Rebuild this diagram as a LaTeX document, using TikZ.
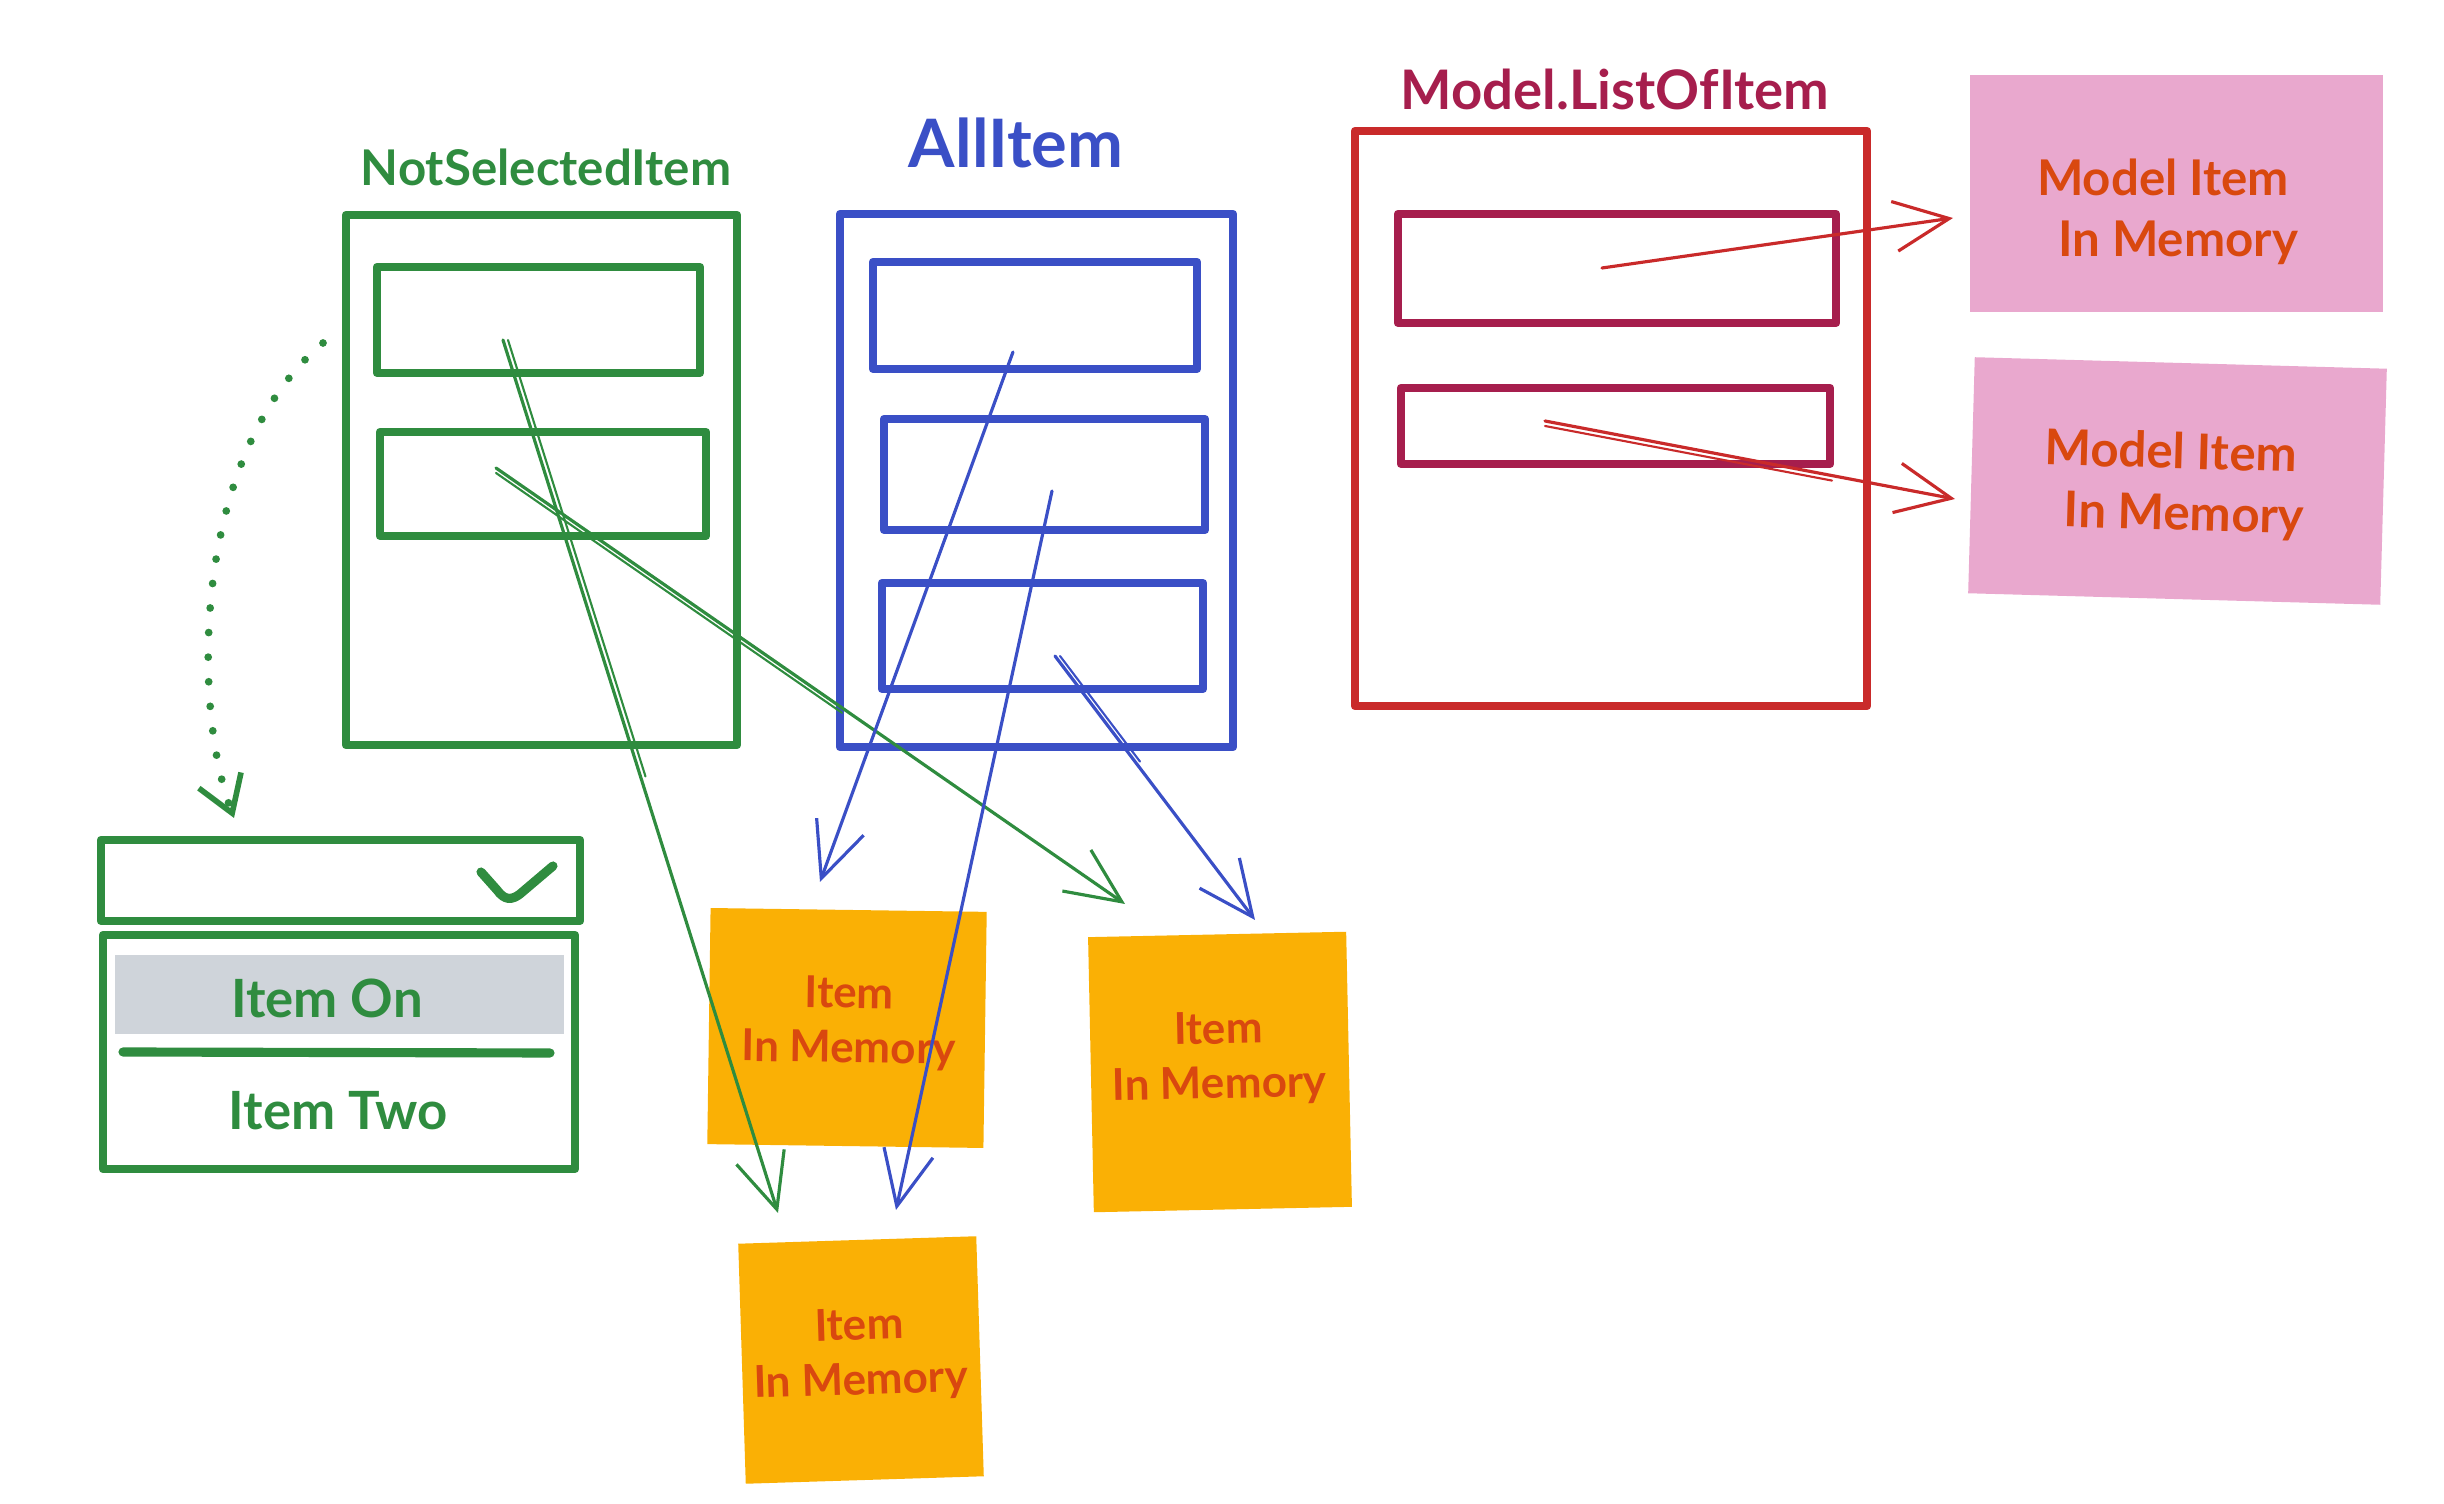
\documentclass[tikz,border=0pt]{standalone}
\usepackage{fontspec}
\setmainfont{Lato}
\usetikzlibrary{arrows.meta,calc}
\definecolor{cgreen}{HTML}{2F8C3F}
\definecolor{cblue}{HTML}{3A4FC6}
\definecolor{cred}{HTML}{C92A2A}
\definecolor{cmaroon}{HTML}{A61E4D}
\definecolor{corange}{HTML}{FAB005}
\definecolor{cpink}{HTML}{E9A8CE}
\definecolor{ctext}{HTML}{D9480F}
\definecolor{cgray}{HTML}{CFD4DA}
\begin{document}
\begin{tikzpicture}[x=0.01cm,y=-0.01cm,
  thickbox/.style={draw, line width=2.3pt, line join=round, inner sep=0pt},
  gbox/.style={thickbox, draw=cgreen},
  bbox/.style={thickbox, draw=cblue},
  rbox/.style={thickbox, draw=cred},
  mbox/.style={thickbox, draw=cmaroon},
  orangenote/.style={fill=corange, inner sep=0pt},
  pinknote/.style={fill=cpink, inner sep=0pt},
  memtxt/.style={inner sep=0pt, align=center, text=ctext, font=\bfseries\fontsize{12.5}{15.5}\selectfont},
  modeltxt/.style={inner sep=0pt, align=center, text=ctext, font=\bfseries\fontsize{14}{17.5}\selectfont},
  title/.style={inner sep=0pt, font=\bfseries\fontsize{14}{17}\selectfont},
  arr/.style={line width=0.9pt, line cap=round, -{Straight Barb[length=0.55cm, width=0.5cm, line width=0.9pt]}},
  ghost/.style={line width=0.6pt, line cap=round},
  garr/.style={arr, draw=cgreen},
  barr/.style={arr, draw=cblue},
  rarr/.style={arr, draw=cred},
  dotarr/.style={draw=cgreen, line width=2.2pt, line cap=round, dash pattern=on 0pt off 7pt,
     -{Straight Barb[length=0.35cm, width=0.45cm, line width=1.6pt]}},
  ddtxt/.style={inner sep=0pt, text=cgreen, font=\bfseries\fontsize{15}{18}\selectfont}
]
\useasboundingbox (0,0) rectangle (2444,1504);

% titles
\node[title, text=cgreen] (tnsi) at (546,167) {NotSelectedItem};
\node[title, text=cblue, font=\bfseries\fontsize{19}{22}\selectfont] (tall) at (1016,143) {AllItem};
\node[title, text=cmaroon, font=\bfseries\fontsize{15.5}{18}\selectfont] (tmod) at (1615,89) {Model.ListOfItem};

% NotSelectedItem
\node[gbox, minimum width=3.91cm, minimum height=5.30cm] (nsi) at (541.5,480) {};
\node[gbox, minimum width=3.23cm, minimum height=1.06cm] (nsi1) at (538.5,320) {};
\node[gbox, minimum width=3.26cm, minimum height=1.04cm] (nsi2) at (543,484) {};

% AllItem
\node[bbox, minimum width=3.93cm, minimum height=5.33cm] (all) at (1036.5,480.5) {};
\node[bbox, minimum width=3.24cm, minimum height=1.07cm] (all1) at (1035,315.5) {};
\node[bbox, minimum width=3.21cm, minimum height=1.11cm] (all2) at (1044.5,474.5) {};
\node[bbox, minimum width=3.21cm, minimum height=1.06cm] (all3) at (1042.5,636) {};

% Model.ListOfItem
\node[rbox, minimum width=5.12cm, minimum height=5.75cm] (mod) at (1611,418.5) {};
\node[mbox, minimum width=4.38cm, minimum height=1.09cm] (mod1) at (1617,268.5) {};
\node[mbox, minimum width=4.29cm, minimum height=0.76cm] (mod2) at (1615.5,426) {};

% pink notes
\node[pinknote, minimum width=4.13cm, minimum height=2.37cm] (pk1) at (2176.5,193.5) {};
\node[modeltxt] (pk1t) at (2163,212) {Model Item\\ \hspace*{0.3cm}In Memory};
\node[pinknote, minimum width=4.12cm, minimum height=2.36cm, rotate=-1.6] (pk2) at (2177.5,481) {};
\node[modeltxt, rotate=-1.6] (pk2t) at (2170,485) {Model Item\\ \hspace*{0.3cm}In Memory};

% orange notes
\node[orangenote, minimum width=2.76cm, minimum height=2.36cm, rotate=-0.8] (o1) at (847,1028) {};
\node[memtxt, rotate=-0.8] (o1t) at (849,1023) {Item\\In Memory};
\node[orangenote, minimum width=2.58cm, minimum height=2.75cm, rotate=1.2] (o2) at (1220,1072) {};
\node[memtxt, rotate=1.2] (o2t) at (1219,1059) {Item\\In Memory};
\node[orangenote, minimum width=2.38cm, minimum height=2.40cm, rotate=1.8] (o3) at (861,1360) {};
\node[memtxt, rotate=1.8] (o3t) at (860,1355) {Item\\In Memory};

% dropdown
\node[gbox, minimum width=4.79cm, minimum height=0.81cm] (ddtop) at (340.5,880.5) {};
\node[gbox, minimum width=4.72cm, minimum height=2.34cm] (ddlist) at (339,1052) {};
\node[fill=cgray, inner sep=0pt, minimum width=4.49cm, minimum height=0.79cm] (ddsel) at (339.5,994.5) {};
\node[ddtxt] (ddon) at (327,998) {Item On};
\node[ddtxt] (ddtwo) at (338,1111) {Item Two};
\coordinate (sepl) at (123,1052);
\coordinate (sepr) at (550,1053);
\draw[draw=cgreen, line width=2.6pt, line cap=round] (sepl) -- (sepr);
\coordinate (ck1) at (481,872);
\coordinate (ck2) at (497,890);
\coordinate (ck3) at (520,894);
\coordinate (ck4) at (553,866);
\draw[draw=cgreen, line width=2.6pt, line cap=round, line join=round]
  (ck1) -- (ck2) .. controls (505,901) and (512,900) .. (ck3) -- (ck4);

% dotted connector
\coordinate (dots) at (323,343);
\coordinate (dote) at (234,818);
\draw[dotarr] (dots) .. controls (195,450) and (190,700) .. (dote);

% connectors
\coordinate (g1s) at (503,340);
\coordinate (g1e) at (778,1213);
\coordinate (g2s) at (496,468);
\coordinate (g2e) at (1125,904);
\coordinate (b1s) at (1013,352);
\coordinate (b1e) at (820,882);
\coordinate (b2s) at (1052,491);
\coordinate (b2e) at (896,1210);
\coordinate (b3s) at (1055,656);
\coordinate (b3e) at (1255,920);
\coordinate (r1s) at (1602,268);
\coordinate (r1e) at (1953,218);
\coordinate (r2s) at (1545,421);
\coordinate (r2e) at (1955,499);
\draw[garr] (g1s) -- (g1e);
\draw[ghost, draw=cgreen] ([xshift=0.05cm]g1s) -- ([xshift=0.05cm]$(g1s)!0.5!(g1e)$);
\draw[garr] (g2s) -- (g2e);
\draw[ghost, draw=cgreen] ([yshift=-0.05cm]g2s) -- ([yshift=-0.05cm]$(g2s)!0.55!(g2e)$);
\draw[barr] (b1s) -- (b1e);
\draw[barr] (b2s) -- (b2e);
\draw[barr] (b3s) -- (b3e);
\draw[ghost, draw=cblue] ([xshift=0.05cm]b3s) -- ([xshift=0.05cm]$(b3s)!0.4!(b3e)$);
\draw[rarr] (r1s) -- (r1e);
\draw[rarr] (r2s) -- (r2e);
\draw[ghost, draw=cred] ([yshift=-0.05cm]r2s) -- ([yshift=-0.05cm]$(r2s)!0.7!(r2e)$);
\end{tikzpicture}
\end{document}
